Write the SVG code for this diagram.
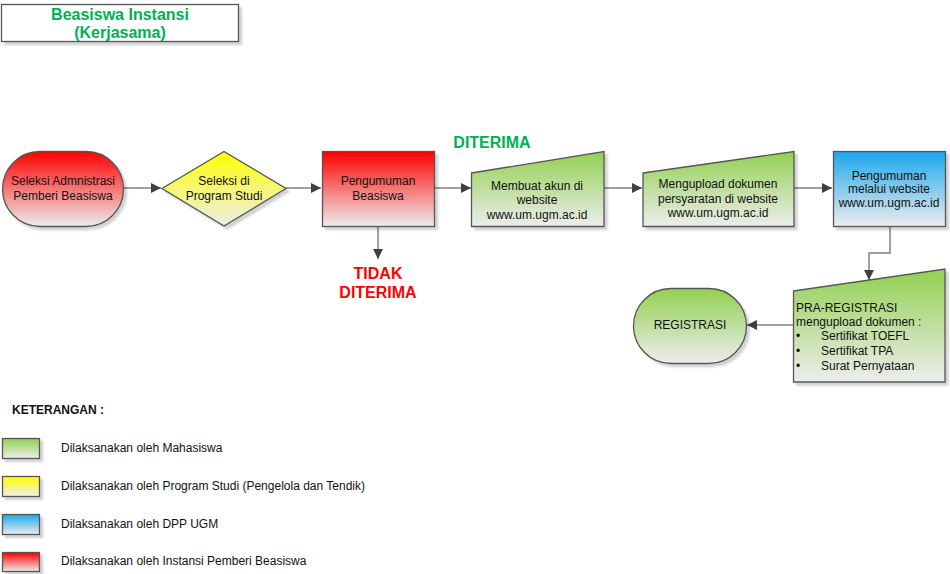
<svg xmlns="http://www.w3.org/2000/svg" width="950" height="574" viewBox="0 0 950 574">
<defs>
<linearGradient id="gRed" x1="0" y1="0" x2="0" y2="1"><stop offset="0" stop-color="#FF0000"/><stop offset="1" stop-color="#EDEDED"/></linearGradient>
<linearGradient id="gYel" x1="0" y1="0" x2="0" y2="1"><stop offset="0" stop-color="#FFFF00"/><stop offset="1" stop-color="#EDEDED"/></linearGradient>
<linearGradient id="gGrn" x1="0" y1="0" x2="0" y2="1"><stop offset="0" stop-color="#92D050"/><stop offset="1" stop-color="#EDEDED"/></linearGradient>
<linearGradient id="gBlu" x1="0" y1="0" x2="0" y2="1"><stop offset="0" stop-color="#1BA8EC"/><stop offset="1" stop-color="#EDEDED"/></linearGradient>
<marker id="arr" viewBox="0 0 10 10" refX="10" refY="5" markerWidth="10" markerHeight="10" markerUnits="userSpaceOnUse" orient="auto"><path d="M0,0 L10,5 L0,10 Z" fill="#404040"/></marker>
<filter id="sh" x="-10%" y="-10%" width="130%" height="130%"><feOffset dx="3" dy="3" in="SourceAlpha"/><feGaussianBlur stdDeviation="1"/><feComponentTransfer><feFuncA type="linear" slope="0.18"/></feComponentTransfer><feMerge><feMergeNode/><feMergeNode in="SourceGraphic"/></feMerge></filter>
</defs>
<style>
.s{stroke:#555555;stroke-width:1.3;filter:url(#sh)}
.t{font-family:"Liberation Sans",Arial,sans-serif;font-size:12px;fill:#111111}
.c{text-anchor:middle}
.ln{fill:none;stroke:#808080;stroke-width:1.5;marker-end:url(#arr)}
.bg{font-family:"Liberation Sans",Arial,sans-serif;font-weight:bold;font-size:16px;text-anchor:middle}
</style>
<rect width="950" height="574" fill="#FFFFFF"/>

<g id="title">
<rect x="1.5" y="4.5" width="237" height="37" fill="#FFFFFF" class="s"/>
<text class="bg" x="120" y="20" fill="#00B050">Beasiswa Instansi</text>
<text class="bg" x="120" y="38" fill="#00B050">(Kerjasama)</text>
</g>

<g id="connectors">
<line class="ln" x1="124" y1="188" x2="161" y2="188"/>
<line class="ln" x1="286" y1="188" x2="321" y2="188"/>
<line class="ln" x1="435" y1="188" x2="471" y2="188"/>
<line class="ln" x1="604" y1="188" x2="642" y2="188"/>
<line class="ln" x1="794" y1="188" x2="832" y2="188"/>
<line class="ln" x1="378" y1="227" x2="378" y2="259"/>
<polyline class="ln" points="890,227 890,253 869,253 869,280"/>
<line class="ln" x1="793" y1="325" x2="747" y2="325"/>
</g>

<g id="n1">
<rect x="2.5" y="151.5" width="121" height="75" rx="37.5" fill="url(#gRed)" class="s"/>
<text class="t c" x="63" y="185">Seleksi Admnistrasi</text>
<text class="t c" x="63" y="200">Pemberi Beasiswa</text>
</g>

<g id="n2">
<polygon points="224,151.5 286,188.5 224,226 162,188.5" fill="url(#gYel)" class="s"/>
<text class="t c" x="224" y="185">Seleksi di</text>
<text class="t c" x="224" y="200">Program Studi</text>
</g>

<g id="n3">
<rect x="322.5" y="151.5" width="112" height="75" fill="url(#gRed)" class="s"/>
<text class="t c" x="378" y="185">Pengumuman</text>
<text class="t c" x="378" y="200">Beasiswa</text>
</g>

<g id="lbl-diterima">
<text class="bg" x="492" y="148" fill="#00B050">DITERIMA</text>
</g>
<g id="lbl-tidak">
<text class="bg" x="378" y="279" fill="#FF0000">TIDAK</text>
<text class="bg" x="378" y="298" fill="#FF0000">DITERIMA</text>
</g>

<g id="n4">
<polygon points="471.5,173 604,151.5 604,226.5 471.5,226.5" fill="url(#gGrn)" class="s"/>
<text class="t c" x="537" y="190">Membuat akun di</text>
<text class="t c" x="537" y="204">website</text>
<text class="t c" x="537" y="219">www.um.ugm.ac.id</text>
</g>

<g id="n5">
<polygon points="643,173 794,151.5 794,226.5 643,226.5" fill="url(#gGrn)" class="s"/>
<text class="t c" x="718" y="188">Mengupload dokumen</text>
<text class="t c" x="718" y="203">persyaratan di website</text>
<text class="t c" x="718" y="217">www.um.ugm.ac.id</text>
</g>

<g id="n6">
<rect x="833.5" y="151.5" width="112" height="75" fill="url(#gBlu)" class="s"/>
<text class="t c" x="889" y="180">Pengumuman</text>
<text class="t c" x="889" y="193">melalui website</text>
<text class="t c" x="889" y="207">www.um.ugm.ac.id</text>
</g>

<g id="n7">
<polygon points="793.5,291 945,269 945,382 793.5,382" fill="url(#gGrn)" class="s"/>
<text class="t" x="796" y="312">PRA-REGISTRASI</text>
<text class="t" x="796" y="326">mengupload dokumen :</text>
<text class="t" x="796" y="340">•</text>
<text class="t" x="821" y="340">Sertifikat TOEFL</text>
<text class="t" x="796" y="355">•</text>
<text class="t" x="821" y="355">Sertifikat TPA</text>
<text class="t" x="796" y="370">•</text>
<text class="t" x="821" y="370">Surat Pernyataan</text>
</g>

<g id="n8">
<rect x="633.5" y="288.5" width="113" height="75" rx="37.5" fill="url(#gGrn)" class="s"/>
<text class="t c" x="690" y="329">REGISTRASI</text>
</g>

<g id="legend">
<text x="12" y="414" font-family="'Liberation Sans',Arial,sans-serif" font-weight="bold" font-size="12" fill="#111111">KETERANGAN :</text>
<rect x="2.5" y="438.5" width="37" height="20" fill="url(#gGrn)" class="s"/>
<text class="t" x="61" y="452">Dilaksanakan oleh Mahasiswa</text>
<rect x="2.5" y="476.5" width="37" height="20" fill="url(#gYel)" class="s"/>
<text class="t" x="61" y="490">Dilaksanakan oleh Program Studi (Pengelola dan Tendik)</text>
<rect x="2.5" y="514.5" width="37" height="20" fill="url(#gBlu)" class="s"/>
<text class="t" x="61" y="528">Dilaksanakan oleh DPP UGM</text>
<rect x="2.5" y="552.5" width="37" height="19" fill="url(#gRed)" class="s"/>
<text class="t" x="61" y="565">Dilaksanakan oleh Instansi Pemberi Beasiswa</text>
</g>
</svg>
